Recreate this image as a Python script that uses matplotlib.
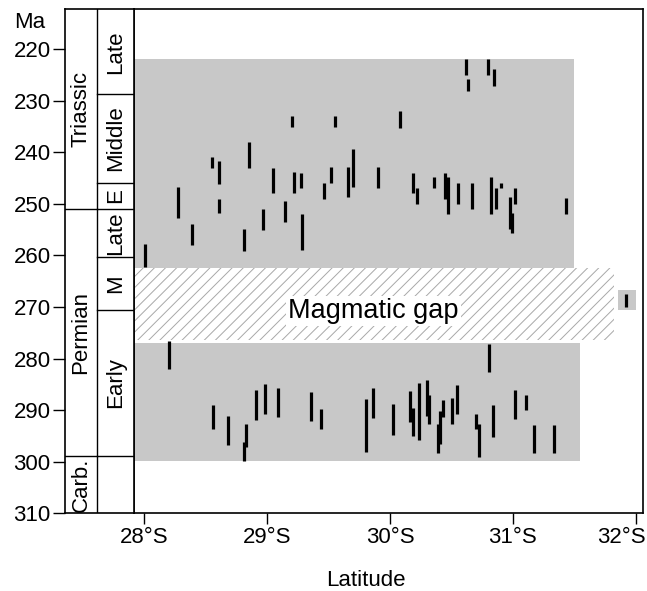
import matplotlib
matplotlib.use("Agg")
import matplotlib.pyplot as plt
import matplotlib.transforms as mtransforms
from matplotlib.patches import Rectangle

plt.rcParams['font.family'] = ['Liberation Sans', 'DejaVu Sans']
plt.rcParams['hatch.color'] = '#a8a8a8'
plt.rcParams['hatch.linewidth'] = 0.7

# ages of single samples (latitude in degrees S, age range in Ma)
lat = [28.005, 28.277, 28.386, 28.553, 28.61, 28.605, 28.852, 28.814, 28.968, 29.045,
       29.145, 29.204, 29.22, 29.277, 29.283, 29.465, 29.519, 29.552, 29.66, 29.696,
       29.899, 30.615, 30.636, 30.794, 30.846, 30.078, 30.184, 30.216, 30.357, 30.447,
       30.474, 30.553, 30.666, 30.819, 30.859, 30.9, 30.976, 30.992, 31.016, 31.429,
       28.2, 28.56, 28.68, 28.825, 28.809, 28.909, 28.982, 29.085, 29.359, 29.435,
       29.806, 29.861, 30.026, 30.164, 30.184, 30.24, 30.303, 30.319, 30.392, 30.406,
       30.428, 30.506, 30.542, 30.701, 30.726, 30.807, 30.84, 31.016, 31.111, 31.173,
       31.339, 31.92]
age_young = [257.8, 246.8, 253.9, 240.9, 241.8, 249.1, 238.0, 254.9, 251.0, 243.1,
             249.5, 233.0, 243.9, 244.0, 251.9, 246.0, 242.9, 233.0, 242.9, 239.4,
             242.9, 221.9, 225.9, 221.9, 223.9, 232.0, 244.1, 246.9, 244.9, 244.1,
             244.9, 246.0, 246.0, 244.9, 246.9, 246.0, 248.7, 251.8, 247.0, 248.8,
             276.7, 289.1, 291.1, 292.7, 296.1, 286.1, 284.9, 285.7, 286.5, 289.8,
             287.9, 285.8, 288.9, 286.2, 289.5, 284.8, 284.2, 287.1, 292.6, 290.2,
             288.0, 287.7, 285.1, 290.8, 292.7, 277.2, 289.0, 286.1, 287.1, 292.9,
             292.9, 267.4]
age_old = [262.3, 252.7, 257.9, 243.1, 246.2, 251.7, 243.1, 259.1, 255.0, 247.9,
           253.6, 235.2, 248.0, 247.0, 259.0, 249.1, 246.0, 235.2, 248.7, 246.7,
           247.0, 225.0, 228.1, 225.0, 227.2, 235.3, 248.0, 250.1, 247.0, 249.1,
           252.0, 250.1, 251.1, 252.0, 251.1, 247.0, 254.9, 255.6, 250.1, 252.0,
           282.1, 293.7, 296.8, 297.1, 299.9, 291.9, 290.7, 291.4, 292.2, 293.7,
           298.1, 291.5, 294.8, 292.4, 295.1, 295.7, 291.1, 292.7, 298.4, 296.6,
           291.4, 292.6, 290.7, 293.7, 299.1, 282.7, 295.3, 291.8, 290.0, 298.4,
           298.4, 270.0]

# magmatic windows: (lat_end, age_young, age_old)
active_lat = [31.50, 31.55]
active_young = [221.9, 277.0]
active_old = [262.4, 299.9]
gap_lat = 31.82
gap_young = 262.4
gap_old = 276.4
# isolated window at the southern end
south_lat = [31.86, 32.0]
south_age = [266.7, 270.5]

# stratigraphic chart
period_names = ['Triassic', 'Permian', 'Carb.']
period_bounds = [212.3, 251.0, 298.8, 310.0]
epoch_names = ['Late', 'Middle', 'E', 'Late', 'M', 'Early', '']
epoch_bounds = [212.3, 228.8, 245.9, 251.0, 260.3, 270.5, 298.8, 310.0]

x_ticks = [28, 29, 30, 31, 32]
y_ticks = [220, 230, 240, 250, 260, 270, 280, 290, 300, 310]

fig = plt.figure(figsize=(6.47, 5.91), dpi=100)
ax = fig.add_axes([0.2071, 0.1315, 0.7862, 0.8528])
sax = fig.add_axes([0.1009, 0.1315, 0.1062, 0.8528], sharey=ax)

xmin, xmax = 27.916, 32.057
ax.set_xlim(xmin, xmax)
ax.set_ylim(310, 212.3)

gray = '#c8c8c8'
for x1, a0, a1 in zip(active_lat, active_young, active_old):
    ax.add_patch(Rectangle((xmin, a0), x1 - xmin, a1 - a0, facecolor=gray,
                           edgecolor='none', zorder=1))
ax.add_patch(Rectangle((xmin, gap_young), gap_lat - xmin, gap_old - gap_young,
                       facecolor='white', edgecolor='#a8a8a8', linewidth=0,
                       hatch='///', zorder=1))
ax.add_patch(Rectangle((south_lat[0], south_age[0]), south_lat[1] - south_lat[0],
                       south_age[1] - south_age[0], facecolor=gray,
                       edgecolor='none', zorder=1))

ax.vlines(lat, age_young, age_old, color='black', linewidth=2.3, zorder=3)

ax.text(29.865, 270.8, 'Magmatic gap', fontsize=19.5, ha='center', va='center',
        zorder=4, bbox=dict(facecolor='white', edgecolor='none', pad=1.5))

ax.set_xticks(x_ticks)
ax.set_xticklabels([f'{v}°S' for v in x_ticks])
ax.tick_params(axis='x', labelsize=16, length=8, width=1, pad=2)
ax.tick_params(axis='y', left=False, labelleft=False)
# last label sits a bit left of its tick so it stays inside the figure
last = ax.get_xticklabels()[-1]
last.set_transform(last.get_transform() +
                   mtransforms.ScaledTranslation(-0.14, 0, fig.dpi_scale_trans))
for s in ax.spines.values():
    s.set_linewidth(1.2)

# strat column
split = 0.457
sax.set_xlim(0, 1)
sax.set_xticks([])
sax.axvline(split, color='black', linewidth=1)
for b in period_bounds[1:-1]:
    sax.plot([0, split], [b, b], color='black', linewidth=1)
for b in epoch_bounds[1:-1]:
    sax.plot([split, 1], [b, b], color='black', linewidth=1)
for name, b0, b1 in zip(period_names, period_bounds[:-1], period_bounds[1:]):
    sax.text(split / 2, (b0 + b1) / 2, name, rotation=90, fontsize=16,
             ha='center', va='center')
for name, b0, b1 in zip(epoch_names, epoch_bounds[:-1], epoch_bounds[1:]):
    sax.text((split + 1) / 2, (b0 + b1) / 2, name, rotation=90, fontsize=16,
             ha='center', va='center')
sax.set_yticks(y_ticks)
sax.tick_params(axis='y', labelsize=16, length=8.5, width=1, pad=2)
for s in sax.spines.values():
    s.set_linewidth(1.2)

fig.text(30 / 647, 1 - 23 / 591, 'Ma', fontsize=16, ha='center', va='center')
fig.text(365.5 / 647, 1 - 580 / 591, 'Latitude', fontsize=16, ha='center', va='center')

fig.savefig('out.png', dpi=100)
